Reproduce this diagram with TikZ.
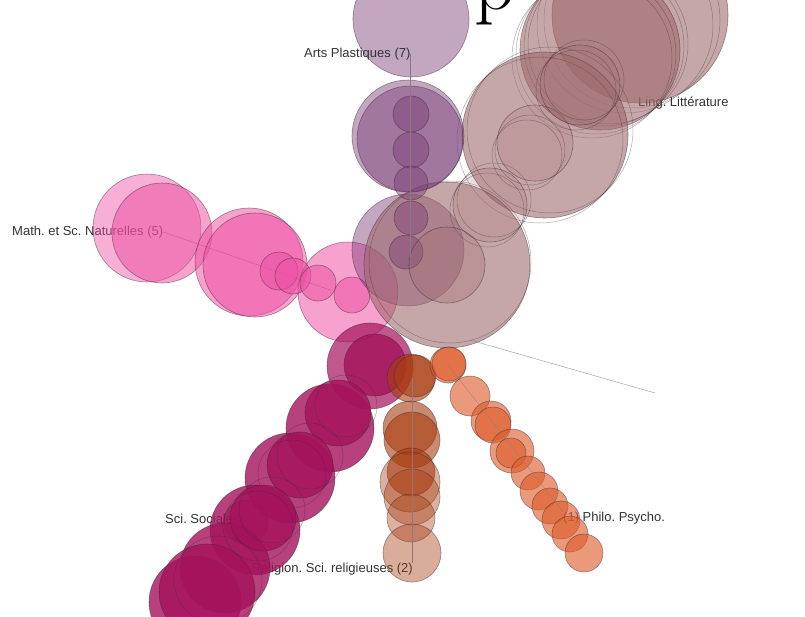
\documentclass[tikz,border=0pt]{standalone}
\usepackage{fontspec}
\newfontfamily\labfont{Liberation Sans}
\definecolor{artsC}{HTML}{7A3E76}
\definecolor{lingC}{HTML}{9E686B}
\definecolor{mathC}{HTML}{EE4FA3}
\definecolor{socC}{HTML}{A5125C}
\definecolor{relC}{HTML}{A83C10}
\definecolor{philoC}{HTML}{DE5C2A}
\definecolor{edgeC}{HTML}{3B2A33}
\definecolor{labC}{HTML}{333333}
\definecolor{leadC}{HTML}{8A7A80}
\begin{document}
\frenchspacing
\begin{tikzpicture}[x=1pt,y=-1pt,
  lbl/.style={font=\labfont\fontsize{13}{15}\selectfont, text=labC, inner sep=0pt},
  bub/.style={draw=edgeC, draw opacity=0.5, line width=0.6pt},
  arts/.style={bub, fill=artsC, fill opacity=0.45},
  ling/.style={bub, fill=lingC, fill opacity=0.58},
  math/.style={bub, fill=mathC, fill opacity=0.53},
  soc/.style={bub, fill=socC, fill opacity=0.8},
  rel/.style={bub, fill=relC, fill opacity=0.6},
  philo/.style={bub, fill=philoC, fill opacity=0.62},
  ring/.style={draw=edgeC, draw opacity=0.4, line width=0.5pt},
  lead/.style={draw=leadC, line width=0.5pt}]
\useasboundingbox (0,0) rectangle (805,616);
\clip (0,0) rectangle (805,616);
\fill[white] (0,0) rectangle (805,616);

% title glyph, cut by the top edge
\node[anchor=base west, inner sep=0pt, font=\fontsize{80}{80}\selectfont] (title) at (474,9) {p};

% ---- Math. et Sc. Naturelles
\node[lbl, anchor=west] (mathL) at (12,232) {Math. et Sc. Naturelles (5)};
\coordinate (mathEnd) at (330,290);
\draw[lead] (mathL.east) -- (mathEnd);
\path[math, fill opacity=0.45] (147,228) circle[radius=54];
\path[math] (162,233) circle[radius=50];
\path[math] (249,262) circle[radius=54];
\path[math] (255,265) circle[radius=52];
\path[math] (348,292) circle[radius=50];
\path[math] (279,271) circle[radius=19];
\path[math] (293,276) circle[radius=18];
\path[math] (318,283) circle[radius=18];
\path[math] (352,295) circle[radius=18];

% ---- Arts Plastiques, lower disc behind the centre
\path[arts] (408,250) circle[radius=56];

% ---- Ling. Littérature
\node[lbl, anchor=west] (lingL) at (638,103) {Ling. Littérature};
\path[ling] (640,15) circle[radius=88];
\foreach \dx/\dy in {-8/5,-15/10} \path[ring] (640+\dx,15+\dy) circle[radius=88];
\path[ling] (600,50) circle[radius=80];
\foreach \dx/\dy in {-4/4,-8/8,4/-4,8/-6} \path[ring] (600+\dx,50+\dy) circle[radius=80];
\path[ling] (545,135) circle[radius=83];
\foreach \dx/\dy in {-5/5,5/-5} \path[ring] (545+\dx,135+\dy) circle[radius=83];
\path[ling] (447,265) circle[radius=83];
\path[ring] (450,262) circle[radius=81];
\path[ling, fill opacity=0.2] (490,205) circle[radius=37];
\foreach \dx/\dy in {-3/5,4/-5} \path[ring] (490+\dx,205+\dy) circle[radius=37];
\path[ling, fill opacity=0.2] (535,143) circle[radius=38];
\foreach \dx/\dy in {-5/7,-8/12} \path[ring] (535+\dx,143+\dy) circle[radius=35];
\path[ling, fill opacity=0.2] (580,85) circle[radius=40];
\foreach \dx/\dy in {-4/5,4/-5} \path[ring] (580+\dx,85+\dy) circle[radius=40];

% ---- Arts Plastiques
\path[arts] (411,19) circle[radius=58];
\path[arts] (408,136) circle[radius=56];
\path[arts] (410,139) circle[radius=53];
\path[arts] (411,114) circle[radius=18];
\path[arts] (411,150) circle[radius=18];
\path[arts] (411,183) circle[radius=17];
\path[arts] (411,218) circle[radius=17];
\path[arts] (406,252) circle[radius=17];
\path[ling, fill opacity=0.3] (447,265) circle[radius=38];
\node[lbl, anchor=west] (artsL) at (304,54) {Arts Plastiques (7)};
\coordinate (artsEnd) at (410,268);
\draw[lead] (artsL.east) -- (artsL.east |- artsEnd);

% ---- thin leader to the right of the centre
\coordinate (gA) at (470,340);
\coordinate (gB) at (655,393);
\draw[lead, draw opacity=0.7] (gA) -- (gB);

% ---- Sci. Sociales and Religion labels
\node[lbl, anchor=west] (socL) at (165,519) {Sci. Sociales};
\node[lbl, anchor=east] (relL) at (413,569) {Religion. Sci. religieuses (2)};

% ---- Sci. Sociales
\path[soc, fill opacity=0.7] (370,366) circle[radius=43];
\path[soc] (330,428) circle[radius=44];
\path[soc] (290,478) circle[radius=45];
\path[soc] (255,530) circle[radius=45];
\path[soc, fill opacity=0.6] (246,522) circle[radius=22];
\path[soc] (225,568) circle[radius=45];
\path[soc] (195,602) circle[radius=46];
\path[soc] (375,365) circle[radius=31];
\path[soc] (338,413) circle[radius=33];
\path[ring] (346,406) circle[radius=31];
\path[soc] (300,465) circle[radius=33];
\path[ring] (310,456) circle[radius=33];
\path[ring] (292,474) circle[radius=34];
\path[soc] (263,518) circle[radius=33];
\path[ring] (272,510) circle[radius=33];
\path[ring] (258,526) circle[radius=35];
\path[soc] (207,592) circle[radius=48];
\path[ring] (218,580) circle[radius=44];

% ---- Religion. Sci. religieuses
\coordinate (relTop) at (412,378);
\path[rel] (411,378) circle[radius=24];
\path[rel] (415,376) circle[radius=21];
\path[rel] (410,428) circle[radius=27];
\path[rel] (412,440) circle[radius=28];
\path[rel] (411,472) circle[radius=24];
\path[rel, fill opacity=0.4] (410,482) circle[radius=30];
\path[rel, fill opacity=0.4] (412,497) circle[radius=28];
\path[rel, fill opacity=0.4] (411,518) circle[radius=24];
\path[rel, fill opacity=0.42] (412,553) circle[radius=29];
\draw[lead] (relTop) -- (relTop |- relL.north);

% ---- Philo. Psycho.
\node[lbl, anchor=west] (philoL) at (563,518) {(1) Philo. Psycho.};
\coordinate (philoTop) at (448,365);
\path[philo] (448,365) circle[radius=18];
\path[philo] (449,364) circle[radius=17];
\path[philo] (470,396) circle[radius=20];
\path[philo] (491,421) circle[radius=20];
\path[philo] (493,425) circle[radius=18];
\path[philo] (512,451) circle[radius=22];
\path[philo] (511,453) circle[radius=15];
\path[philo] (528,473) circle[radius=17];
\path[philo] (539,491) circle[radius=19];
\path[philo] (550,506) circle[radius=18];
\path[philo] (561,520) circle[radius=19];
\path[philo] (570,534) circle[radius=18];
\path[philo] (584,553) circle[radius=19];
\draw[lead, draw opacity=0.6] (philoTop) -- (philoL.north west);
\end{tikzpicture}
\end{document}
